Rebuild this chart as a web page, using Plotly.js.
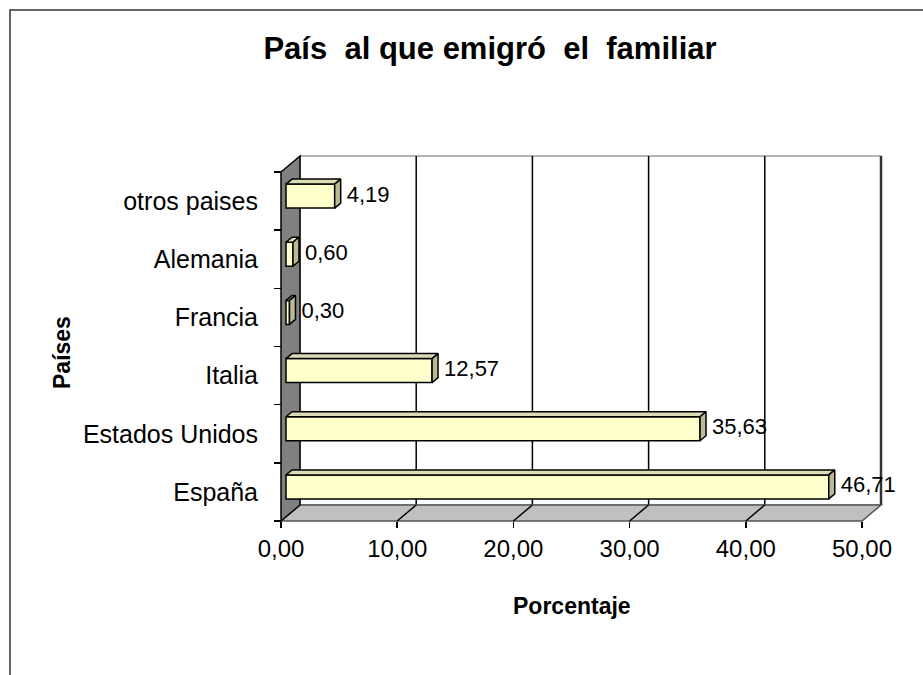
<!DOCTYPE html>
<html>
<head>
<meta charset="utf-8">
<script src="https://cdn.plot.ly/plotly-3.0.1.min.js"></script>
<style>html,body{margin:0;padding:0;background:#fff;}#chart{width:923px;height:675px;}</style>
</head>
<body>
<div id="chart"></div>
<script>
// ---- data ----
const categories = ['España', 'Estados Unidos', 'Italia', 'Francia', 'Alemania', 'otros paises'];
const values = [46.71, 35.63, 12.57, 0.30, 0.60, 4.19];
const xTickValues = [0, 10, 20, 30, 40, 50];
const chartTitle = 'País  al que emigró  el  familiar';
const xTitle = 'Porcentaje';
const yTitle = 'Países';

// ---- geometry (pixels of the 923x675 canvas) ----
const W = 923, H = 675;
const X0PX = 281, X50PX = 862;           // front x-axis 0 and 50
const YBOTPX = 521, YTOPPX = 172;         // front category axis extent
const XMAX = 50;
const sx = (X50PX - X0PX) / XMAX;         // px per unit
const n = categories.length;
const sy = (YBOTPX - YTOPPX) / n;         // px per category
const xr = [-X0PX / sx, (W - X0PX) / sx];
const yr = [-0.5 - (H - YBOTPX) / sy, -0.5 + YBOTPX / sy];
// depth of the 3D box
const DX = 19 / sx, DY = 16 / sy;
// bar placement inside the depth
const BDX = 5 / sx, BDY = 5 / sy, BDDX = 6 / sx, BDDY = 5 / sy, BH = 12 / sy;

const yLo = -0.5, yHi = n - 0.5;
const font = 'Liberation Sans, Arial, sans-serif';
const fmt = v => v.toFixed(2).replace('.', ',');
const idx = categories.map((c, i) => i);

// ---- shapes: walls and gridlines ----
const shapes = [];
const P = pts => 'M ' + pts.map(p => p[0] + ',' + p[1]).join(' L ') + ' Z';
// back wall
shapes.push({type: 'path', xref: 'x', yref: 'y', layer: 'below',
  path: P([[DX, yLo + DY], [XMAX + DX, yLo + DY], [XMAX + DX, yHi + DY], [DX, yHi + DY]]),
  fillcolor: '#ffffff', line: {color: '#9a9a9a', width: 1.5}});
// gridlines on back wall
xTickValues.forEach(v => {
  if (v === 0) return;
  shapes.push({type: 'line', xref: 'x', yref: 'y', layer: 'below',
    x0: v + DX, x1: v + DX, y0: yLo + DY, y1: yHi + DY,
    line: {color: v === XMAX ? '#333333' : '#000000', width: v === XMAX ? 2.5 : 1.5}});
});
// floor
shapes.push({type: 'path', xref: 'x', yref: 'y', layer: 'below',
  path: P([[0, yLo], [XMAX, yLo], [XMAX + DX, yLo + DY], [DX, yLo + DY]]),
  fillcolor: '#c0c0c0', line: {color: '#555555', width: 1.5}});
// floor gridlines
xTickValues.forEach(v => {
  if (v === 0 || v === XMAX) return;
  shapes.push({type: 'line', xref: 'x', yref: 'y', layer: 'below',
    x0: v, x1: v + DX, y0: yLo, y1: yLo + DY, line: {color: '#000000', width: 1.5}});
});
// left wall
shapes.push({type: 'path', xref: 'x', yref: 'y', layer: 'below',
  path: P([[0, yLo], [0, yHi], [DX, yHi + DY], [DX, yLo + DY]]),
  fillcolor: '#808080', line: {color: '#000000', width: 1.5}});
// outer frame
shapes.push({type: 'path', xref: 'paper', yref: 'paper', layer: 'below',
  path: 'M ' + (10 / W) + ',0 L ' + (10 / W) + ',' + (1 - 10 / H) + ' L 1,' + (1 - 10 / H),
  line: {color: '#333333', width: 1.5}});

// ---- bar faces ----
const topX = [], topY = [], sideX = [], sideY = [];
idx.forEach(i => {
  const v = values[i], yc = i + BDY;
  const x0 = BDX, x1 = v + BDX;
  topX.push(x0, x0 + BDDX, x1 + BDDX, x1, x0, null);
  topY.push(yc + BH, yc + BH + BDDY, yc + BH + BDDY, yc + BH, yc + BH, null);
  sideX.push(x1, x1 + BDDX, x1 + BDDX, x1, x1, null);
  sideY.push(yc - BH, yc - BH + BDDY, yc + BH + BDDY, yc + BH, yc - BH, null);
});

const traces = [
  {type: 'bar', orientation: 'h', x: values, y: idx.map(i => i + BDY), base: BDX,
   width: 2 * BH, marker: {color: '#ffffcc', line: {color: '#000000', width: 1.5}},
   hoverinfo: 'skip', showlegend: false, xaxis: 'x', yaxis: 'y'},
  {type: 'scatter', mode: 'lines', x: topX, y: topY, fill: 'toself', fillcolor: '#dcdcb4',
   line: {color: '#000000', width: 1.5}, hoverinfo: 'skip', showlegend: false},
  {type: 'scatter', mode: 'lines', x: sideX, y: sideY, fill: 'toself', fillcolor: '#b9b994',
   line: {color: '#000000', width: 1.5}, hoverinfo: 'skip', showlegend: false},
  {type: 'scatter', mode: 'text', x: values.map(v => v + BDX + BDDX + 6 / sx),
   y: idx.map(i => i + BDY), text: values.map(fmt), textposition: 'middle right',
   textfont: {family: font, size: 22, color: '#000'}, cliponaxis: false,
   hoverinfo: 'skip', showlegend: false},
  // invisible trace to activate label axis
  {type: 'scatter', mode: 'markers', x: [0], y: [0], yaxis: 'y2', marker: {opacity: 0},
   hoverinfo: 'skip', showlegend: false}
];

const layout = {
  width: W, height: H,
  margin: {l: 0, r: 0, t: 0, b: 0, pad: 0},
  paper_bgcolor: '#ffffff', plot_bgcolor: 'rgba(0,0,0,0)',
  font: {family: font, color: '#000'},
  separators: ',.',
  showlegend: false,
  title: {text: '<b>' + chartTitle + '</b>', font: {family: font, size: 31, color: '#000'},
          x: 490 / W, xanchor: 'center', y: 1 - 48 / H, yanchor: 'middle', yref: 'container', xref: 'paper'},
  xaxis: {range: xr, domain: [0, 1], anchor: 'free', position: 1 - YBOTPX / H,
          tickvals: xTickValues, tickformat: '.2f', ticks: 'outside', ticklen: 6,
          tickcolor: '#000', tickwidth: 1.5, showgrid: false, zeroline: false, showline: false,
          tickfont: {family: font, size: 24, color: '#000'}, automargin: false, fixedrange: true},
  yaxis: {range: yr, domain: [0, 1], anchor: 'free', position: X0PX / W,
          tickvals: [-0.5, 0.5, 1.5, 2.5, 3.5, 4.5, 5.5], ticktext: ['', '', '', '', '', '', ''],
          ticks: 'outside', ticklen: 7, tickcolor: '#000', tickwidth: 1.5,
          showgrid: false, zeroline: false, showline: false, automargin: false, fixedrange: true},
  yaxis2: {range: yr, domain: [0, 1], overlaying: 'y', anchor: 'free', position: X0PX / W, side: 'left',
           tickvals: idx, ticktext: categories, ticks: 'outside', ticklen: 18, tickcolor: 'rgba(0,0,0,0)',
           tickfont: {family: font, size: 25, color: '#000'},
           showgrid: false, zeroline: false, showline: false, automargin: false, fixedrange: true},
  shapes: shapes,
  annotations: [
    {text: '<b>' + xTitle + '</b>', xref: 'paper', yref: 'paper', x: 572 / W, y: 1 - 606 / H,
     xanchor: 'center', yanchor: 'middle', showarrow: false, font: {family: font, size: 23, color: '#000'}},
    {text: '<b>' + yTitle + '</b>', xref: 'paper', yref: 'paper', x: 62 / W, y: 1 - 352 / H,
     xanchor: 'center', yanchor: 'middle', textangle: -90, showarrow: false,
     font: {family: font, size: 23, color: '#000'}}
  ]
};

Plotly.newPlot('chart', traces, layout, {displayModeBar: false, staticPlot: true});
</script>
</body>
</html>
